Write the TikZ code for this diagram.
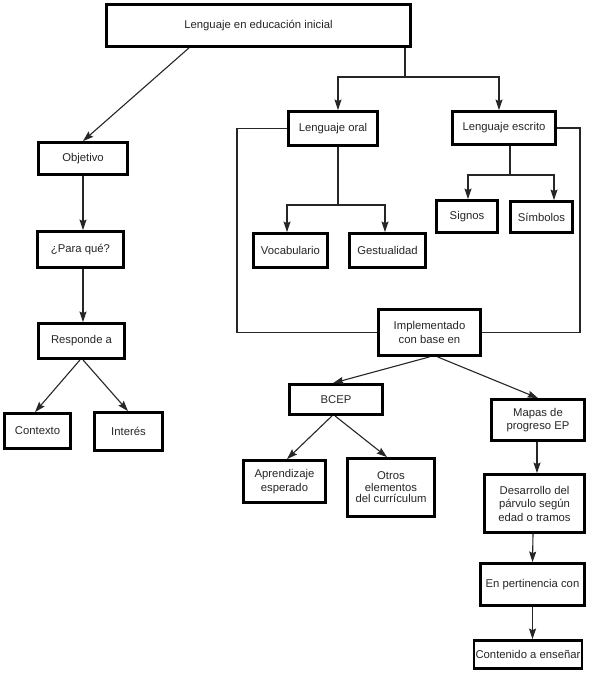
\documentclass[tikz,border=0pt]{standalone}
\usepackage{fontspec}
\setmainfont{Liberation Sans}
\usetikzlibrary{arrows.meta,calc}
\tikzset{
  box/.style={draw=black, line width=2.8pt, fill=white, align=center, inner sep=1pt,
    font=\fontsize{11.3}{13.5}\selectfont, text=black!85},
  conn/.style={line width=1.1pt, draw=black!85},
  arr/.style={conn, -{Stealth[length=10.5pt,width=7pt,inset=1.5pt]}}
}
\begin{document}
\begin{tikzpicture}[x=1pt,y=-1pt]
\useasboundingbox[fill=white] (0,0) rectangle (589,682);
% nodes
\node[box, minimum width=304pt, minimum height=42pt] (top) at (258.5,25.5) {Lenguaje en educación inicial};
\node[box, minimum width=89pt, minimum height=34pt] (oral) at (333,128.5) {Lenguaje oral};
\node[box, minimum width=103pt, minimum height=33pt] (escrito) at (504,128) {Lenguaje escrito};
\node[box, minimum width=89pt, minimum height=32pt] (objetivo) at (83,158.5) {Objetivo};
\node[box, minimum width=86pt, minimum height=36pt] (para) at (80.5,249.5) {¿Para qué?};
\node[box, minimum width=86pt, minimum height=35pt] (responde) at (81.5,341) {Responde a};
\node[box, minimum width=66pt, minimum height=35pt] (contexto) at (37.5,431) {Contexto};
\node[box, minimum width=68pt, minimum height=38pt] (interes) at (128.5,431.5) {Interés};
\node[box, minimum width=74pt, minimum height=34pt] (vocab) at (290.5,250.5) {Vocabulario};
\node[box, minimum width=76pt, minimum height=34pt] (gest) at (387.5,250.5) {Gestualidad};
\node[box, minimum width=61pt, minimum height=32pt] (signos) at (467,216.5) {Signos};
\node[box, minimum width=62pt, minimum height=31pt] (simbolos) at (541.5,217) {Símbolos};
\node[box, minimum width=102pt, minimum height=46pt] (impl) at (429.5,332.5) {Implementado\\con base en};
\node[box, minimum width=93pt, minimum height=30pt] (bcep) at (336,399.5) {BCEP};
\node[box, minimum width=93pt, minimum height=41pt] (mapas) at (538,420) {Mapas de\\progreso EP};
\node[box, minimum width=82pt, minimum height=42pt] (aprend) at (284.5,481.5) {Aprendizaje\\esperado};
\node[box, minimum width=87pt, minimum height=58pt, font=\fontsize{11.3}{11.5}\selectfont] (otros) at (391,487.5) {Otros\\elementos\\del currículum};
\node[box, minimum width=100pt, minimum height=58pt] (desarrollo) at (534.5,503.5) {Desarrollo del\\párvulo según\\edad o tramos};
\node[box, minimum width=104pt, minimum height=42pt] (pertinencia) at (532.5,584.5) {En pertinencia con};
\node[box, minimum width=108pt, minimum height=28pt] (contenido) at (528,654.5) {Contenido a enseñar};
% split coordinates
\coordinate (tsplit) at (405,77);
\coordinate (osplit) at (338,205);
\coordinate (esplit) at (510,175);
\coordinate (loopL) at (237,0);
\coordinate (loopR) at (580,0);
% connectors
\draw[arr] ([xshift=-69.5pt]top.south) -- (objetivo.north);
\draw[conn] (top.south -| tsplit) -- (tsplit);
\draw[arr] (tsplit) -| ([xshift=5pt]oral.north);
\draw[arr] (tsplit) -| ([xshift=-5pt]escrito.north);
\draw[conn] (oral.south -| osplit) -- (osplit);
\draw[arr] (osplit) -| ([xshift=-3.5pt]vocab.north);
\draw[arr] (osplit) -| ([xshift=-2.5pt]gest.north);
\draw[conn] (escrito.south -| esplit) -- (esplit);
\draw[arr] (esplit) -| ([xshift=1pt]signos.north);
\draw[arr] (esplit) -| ([xshift=12.5pt]simbolos.north);
\draw[conn] (oral.west) -| (loopL |- impl.west) -- (impl.west);
\draw[conn] (escrito.east) -| (loopR |- impl.east) -- (impl.east);
\draw[arr] (impl.south) -- ([xshift=-3pt]bcep.north);
\draw[arr] ([xshift=8pt]impl.south) -- (mapas.north);
\draw[arr] ([xshift=-4pt]bcep.south) -- ([xshift=2.5pt]aprend.north);
\draw[arr] ([xshift=-1pt]bcep.south) -- ([xshift=-4pt]otros.north);
\draw[arr] ([xshift=-1pt]mapas.south) -- ([xshift=-1pt]mapas.south |- desarrollo.north);
\draw[arr] ([xshift=-1.5pt]desarrollo.south) -- (pertinencia.north);
\draw[arr] (pertinencia.south) -- (pertinencia.south |- contenido.north);
\draw[arr] (objetivo.south) -- (objetivo.south |- para.north);
\draw[arr] ([xshift=2.5pt]para.south) -- ([xshift=1.5pt]responde.north);
\draw[arr] ([xshift=-1.5pt]responde.south) -- ([xshift=-2.5pt]contexto.north);
\draw[arr] ([xshift=1.5pt]responde.south) -- ([xshift=-0.5pt]interes.north);
\end{tikzpicture}
\end{document}
